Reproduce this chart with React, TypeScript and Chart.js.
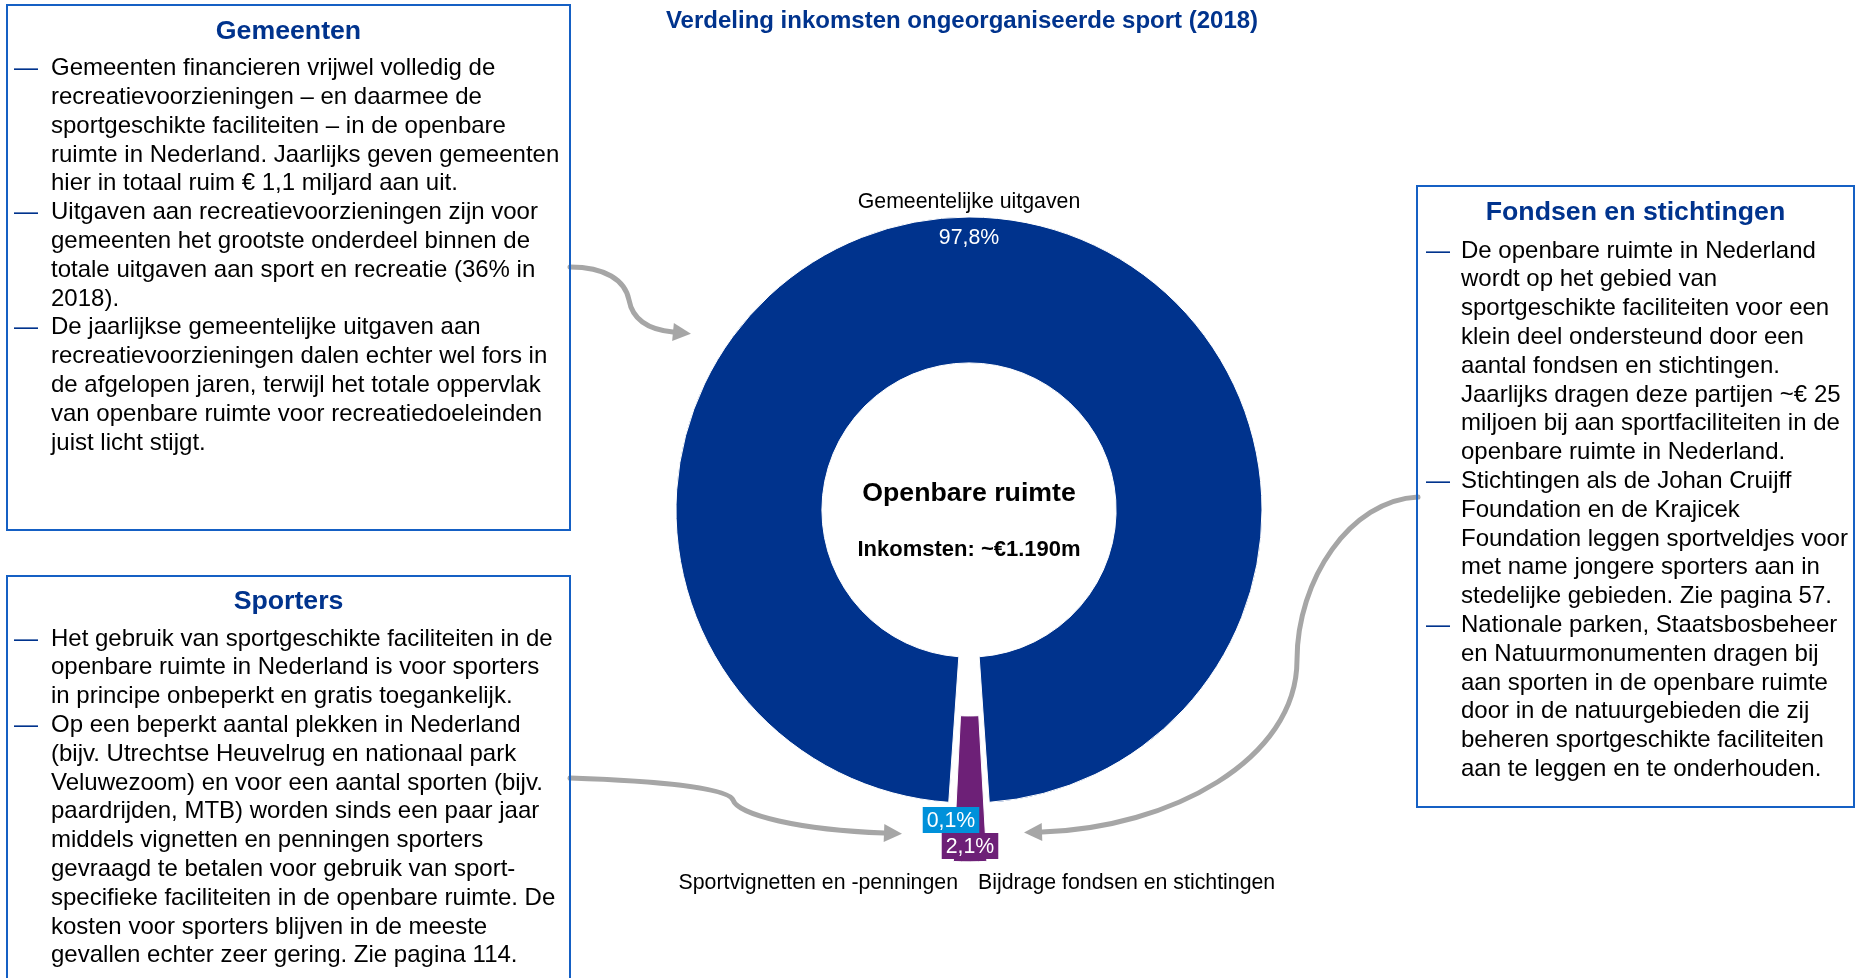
import React, { useEffect, useRef } from 'react';
import { Chart, registerables } from 'chart.js';

Chart.register(...registerables);

const FONT = "'Liberation Sans', Arial, Helvetica, sans-serif";
const NAVY = '#00338D';
const BOX_BLUE = '#1560C4';
const ARROW_GREY = '#A6A6A6';

// ---------- data ----------
const chartTitle = 'Verdeling inkomsten ongeorganiseerde sport (2018)';
const categories = ['Gemeentelijke uitgaven', 'Bijdrage fondsen en stichtingen', 'Sportvignetten en -penningen'];
const shares = [97.8, 2.1, 0.1];
const shareLabels = ['97,8%', '2,1%', '0,1%'];
const sliceColors = ['#00338D', '#6D2077', '#0091DA'];
const sliceOffsets = [0, 126, 118];
const centerTitle = 'Openbare ruimte';
const centerSub = 'Inkomsten: ~€1.190m';

const gemeentenTitle = 'Gemeenten';
const gemeentenBullets = [
  [
    'Gemeenten financieren vrijwel volledig de',
    'recreatievoorzieningen – en daarmee de',
    'sportgeschikte faciliteiten – in de openbare',
    'ruimte in Nederland. Jaarlijks geven gemeenten',
    'hier in totaal ruim € 1,1 miljard aan uit.',
  ],
  [
    'Uitgaven aan recreatievoorzieningen zijn voor',
    'gemeenten het grootste onderdeel binnen de',
    'totale uitgaven aan sport en recreatie (36% in',
    '2018).',
  ],
  [
    'De jaarlijkse gemeentelijke uitgaven aan',
    'recreatievoorzieningen dalen echter wel fors in',
    'de afgelopen jaren, terwijl het totale oppervlak',
    'van openbare ruimte voor recreatiedoeleinden',
    'juist licht stijgt.',
  ],
];

const sportersTitle = 'Sporters';
const sportersBullets = [
  [
    'Het gebruik van sportgeschikte faciliteiten in de',
    'openbare ruimte in Nederland is voor sporters',
    'in principe onbeperkt en gratis toegankelijk.',
  ],
  [
    'Op een beperkt aantal plekken in Nederland',
    '(bijv. Utrechtse Heuvelrug en nationaal park',
    'Veluwezoom) en voor een aantal sporten (bijv.',
    'paardrijden, MTB) worden sinds een paar jaar',
    'middels vignetten en penningen sporters',
    'gevraagd te betalen voor gebruik van sport-',
    'specifieke faciliteiten in de openbare ruimte. De',
    'kosten voor sporters blijven in de meeste',
    'gevallen echter zeer gering. Zie pagina 114.',
  ],
];

const fondsenTitle = 'Fondsen en stichtingen';
const fondsenBullets = [
  [
    'De openbare ruimte in Nederland',
    'wordt op het gebied van',
    'sportgeschikte faciliteiten voor een',
    'klein deel ondersteund door een',
    'aantal fondsen en stichtingen.',
    'Jaarlijks dragen deze partijen ~€ 25',
    'miljoen bij aan sportfaciliteiten in de',
    'openbare ruimte in Nederland.',
  ],
  [
    'Stichtingen als de Johan Cruijff',
    'Foundation en de Krajicek',
    'Foundation leggen sportveldjes voor',
    'met name jongere sporters aan in',
    'stedelijke gebieden. Zie pagina 57.',
  ],
  [
    'Nationale parken, Staatsbosbeheer',
    'en Natuurmonumenten dragen bij',
    'aan sporten in de openbare ruimte',
    'door in de natuurgebieden die zij',
    'beheren sportgeschikte faciliteiten',
    'aan te leggen en te onderhouden.',
  ],
];

// ---------- helpers ----------
type Pt = [number, number];

function drawArrow(ctx: CanvasRenderingContext2D, start: Pt, segs: Pt[][], headLen = 18, headHalf = 9) {
  ctx.save();
  ctx.strokeStyle = ARROW_GREY;
  ctx.fillStyle = ARROW_GREY;
  ctx.lineWidth = 5;
  ctx.lineCap = 'round';
  ctx.beginPath();
  ctx.moveTo(start[0], start[1]);
  segs.forEach((s) => ctx.bezierCurveTo(s[0][0], s[0][1], s[1][0], s[1][1], s[2][0], s[2][1]));
  ctx.stroke();
  const last = segs[segs.length - 1];
  const end = last[2];
  const c = last[1];
  let dx = end[0] - c[0];
  let dy = end[1] - c[1];
  const len = Math.hypot(dx, dy) || 1;
  dx /= len;
  dy /= len;
  const tip: Pt = [end[0] + dx * headLen, end[1] + dy * headLen];
  ctx.beginPath();
  ctx.moveTo(tip[0], tip[1]);
  ctx.lineTo(end[0] - dy * headHalf, end[1] + dx * headHalf);
  ctx.lineTo(end[0] + dy * headHalf, end[1] - dx * headHalf);
  ctx.closePath();
  ctx.fill();
  ctx.restore();
}

function drawTag(ctx: CanvasRenderingContext2D, text: string, color: string, x: number, y: number) {
  ctx.save();
  ctx.font = `21.3px ${FONT}`;
  const w = ctx.measureText(text).width + 8;
  const h = 26;
  ctx.fillStyle = color;
  ctx.fillRect(x - w / 2, y - h / 2, w, h);
  ctx.fillStyle = '#ffffff';
  ctx.textAlign = 'center';
  ctx.textBaseline = 'middle';
  ctx.fillText(text, x, y + 1);
  ctx.restore();
}

const overlayPlugin = {
  id: 'overlay',
  afterDatasetsDraw(chart: any) {
    const ctx: CanvasRenderingContext2D = chart.ctx;
    const meta = chart.getDatasetMeta(0);
    const big = meta.data[0];
    const { x: cx, y: cy, outerRadius: R } = big.getProps(['x', 'y', 'outerRadius'], true);
    ctx.save();
    ctx.textAlign = 'center';
    ctx.textBaseline = 'middle';

    ctx.fillStyle = NAVY;
    ctx.font = `bold 24px ${FONT}`;
    ctx.fillText(chartTitle, cx - 7, 21);

    ctx.font = `21.3px ${FONT}`;
    ctx.fillStyle = '#000000';
    ctx.fillText(categories[0], cx, cy - R - 15);
    ctx.fillStyle = '#ffffff';
    ctx.fillText(shareLabels[0], cx, cy - R + 21);

    ctx.fillStyle = '#000000';
    ctx.font = `bold 26.7px ${FONT}`;
    ctx.fillText(centerTitle, cx, cy - 16);
    ctx.font = `bold 22px ${FONT}`;
    ctx.fillText(centerSub, cx, cy + 40);

    const base = cy + R;
    drawTag(ctx, shareLabels[2], sliceColors[2], cx - 18, base + 17);
    drawTag(ctx, shareLabels[1], sliceColors[1], cx + 1, base + 43);

    ctx.fillStyle = '#000000';
    ctx.font = `21.3px ${FONT}`;
    ctx.textAlign = 'right';
    ctx.fillText(categories[2], cx - 11, base + 80);
    ctx.textAlign = 'left';
    ctx.fillText(categories[1], cx + 9, base + 80);
    ctx.restore();

    drawArrow(ctx, [570, 267], [
      [[605, 267], [625, 280], [629, 300]],
      [[633, 322], [652, 330], [673, 332]],
    ]);
    drawArrow(ctx, [570, 778], [
      [[660, 781], [728, 788], [733, 800]],
      [[738, 815], [800, 830], [884, 833]],
    ]);
    drawArrow(ctx, [1418, 497], [
      [[1350, 500], [1297, 580], [1297, 660]],
      [[1297, 760], [1170, 828], [1042, 832]],
    ]);
  },
};

// ---------- components ----------
type BoxProps = {
  left: number;
  top: number;
  width: number;
  height: number;
  title: string;
  titleY: number;
  lineY: number;
  dashX: number;
  textX: number;
  bullets: string[][];
};

const LINE_H = 28.8;

function TextBox(p: BoxProps) {
  const lines: { text: string; first: boolean }[] = [];
  p.bullets.forEach((b) => b.forEach((t, i) => lines.push({ text: t, first: i === 0 })));
  const base: React.CSSProperties = {
    position: 'absolute',
    fontFamily: FONT,
    fontSize: 24,
    lineHeight: `${LINE_H}px`,
    height: LINE_H,
    whiteSpace: 'nowrap',
  };
  return (
    <>
      <div
        style={{
          position: 'absolute',
          left: p.left,
          top: p.top,
          width: p.width,
          height: p.height,
          border: `2px solid ${BOX_BLUE}`,
          boxSizing: 'border-box',
        }}
      />
      <div
        style={{
          position: 'absolute',
          left: p.left,
          width: p.width,
          top: p.titleY - 16,
          height: 32,
          lineHeight: '32px',
          textAlign: 'center',
          fontFamily: FONT,
          fontWeight: 'bold',
          fontSize: 26.7,
          color: NAVY,
          whiteSpace: 'nowrap',
        }}
      >
        {p.title}
      </div>
      {lines.map((l, i) => {
        const top = p.lineY - LINE_H / 2 + i * LINE_H;
        return (
          <React.Fragment key={i}>
            {l.first && <div style={{ ...base, left: p.dashX, top, color: NAVY }}>—</div>}
            <div style={{ ...base, left: p.textX, top, color: '#000000' }}>{l.text}</div>
          </React.Fragment>
        );
      })}
    </>
  );
}

export default function App() {
  const canvasRef = useRef<HTMLCanvasElement | null>(null);

  useEffect(() => {
    const canvas = canvasRef.current;
    if (!canvas) return;
    const total = shares.reduce((a, b) => a + b, 0);
    const rotation = 180 + ((total - shares[0]) / total) * 180;
    const chart = new Chart(canvas, {
      type: 'doughnut',
      data: {
        labels: categories,
        datasets: [
          {
            data: shares,
            backgroundColor: sliceColors,
            borderColor: '#ffffff',
            borderWidth: [1, 1, 0],
            offset: sliceOffsets,
            hoverOffset: 0,
          } as any,
        ],
      },
      options: {
        responsive: false,
        animation: false,
        events: [],
        rotation,
        radius: 293,
        cutout: '50.2%',
        layout: { padding: { left: 79, right: 0, top: 42, bottom: 0 } },
        plugins: {
          legend: { display: false },
          tooltip: { enabled: false },
          title: { display: false },
        },
      } as any,
      plugins: [overlayPlugin as any],
    });
    return () => chart.destroy();
  }, []);

  return (
    <div
      style={{
        position: 'absolute',
        left: 0,
        top: 0,
        width: 1859,
        height: 978,
        overflow: 'hidden',
        background: '#ffffff',
      }}
    >
      <canvas
        ref={canvasRef}
        width={1859}
        height={978}
        style={{ position: 'absolute', left: 0, top: 0, width: 1859, height: 978 }}
      />
      <TextBox
        left={6}
        top={4}
        width={565}
        height={527}
        title={gemeentenTitle}
        titleY={30}
        lineY={67.6}
        dashX={14}
        textX={51}
        bullets={gemeentenBullets}
      />
      <TextBox
        left={6}
        top={575}
        width={565}
        height={440}
        title={sportersTitle}
        titleY={600}
        lineY={638}
        dashX={14}
        textX={51}
        bullets={sportersBullets}
      />
      <TextBox
        left={1416}
        top={185}
        width={439}
        height={623}
        title={fondsenTitle}
        titleY={211}
        lineY={250}
        dashX={1426}
        textX={1461}
        bullets={fondsenBullets}
      />
    </div>
  );
}
